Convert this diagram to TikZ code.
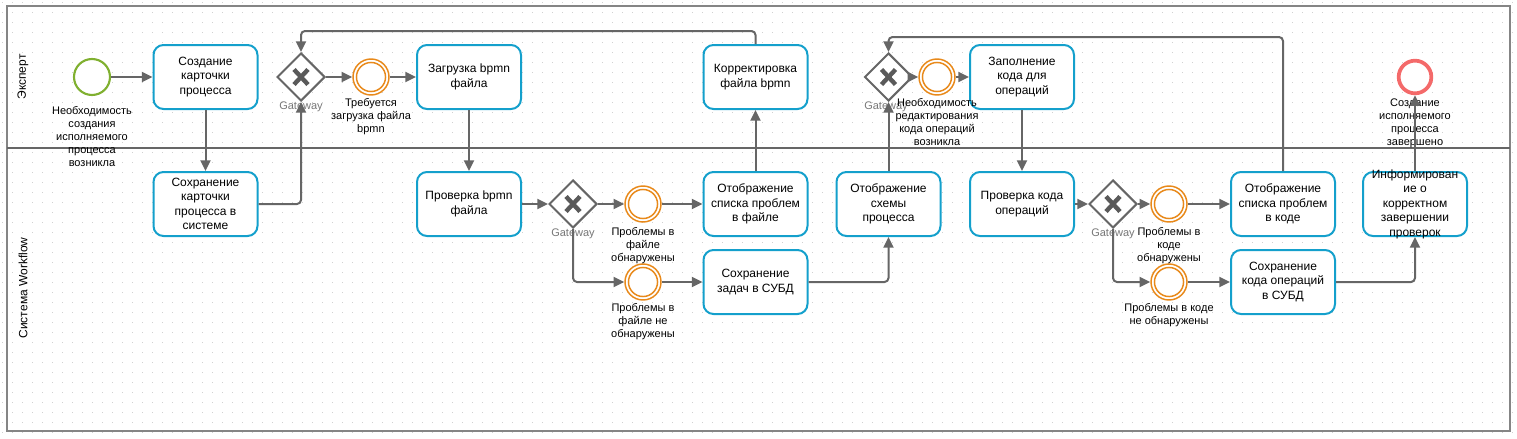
\documentclass[tikz,border=0pt]{standalone}
\usepackage{fontspec}
\setmainfont{Liberation Sans}
\usetikzlibrary{shapes.geometric,arrows.meta}
\definecolor{taskc}{HTML}{14A0CC}
\definecolor{linec}{HTML}{666666}
\definecolor{evc}{HTML}{E8891A}
\definecolor{startc}{HTML}{80B030}
\definecolor{endc}{HTML}{F46A6A}
\definecolor{gridc}{HTML}{D0D0D0}
\definecolor{poolc}{HTML}{858585}
\definecolor{gwtxt}{HTML}{777777}
\definecolor{xmc}{HTML}{5A5A5A}
\newcommand{\gwmark}[1]{%
  \draw[xm] ([shift={(-7,-7.5)}]#1.center) -- ([shift={(7,7.5)}]#1.center);
  \draw[xm] ([shift={(-7,7.5)}]#1.center) -- ([shift={(7,-7.5)}]#1.center);}
\newcommand{\evring}[1]{\draw[evc, line width=1.1pt] (#1.center) circle (10.9pt);}
\begin{document}
\begin{tikzpicture}[x=0.75pt,y=-0.75pt,
  task/.style={draw=taskc, line width=1.5pt, rounded corners=7.5pt, fill=white,
    minimum width=78pt, minimum height=48pt, inner sep=1pt, align=center,
    font=\fontsize{9}{10.9}\selectfont},
  tasktext/.style={inner sep=0pt, align=center, font=\fontsize{9}{10.9}\selectfont},
  gw/.style={diamond, draw=linec, line width=1.5pt, fill=white, minimum width=36pt,
    minimum height=36pt, inner sep=0pt},
  xm/.style={draw=xmc, line width=3.3pt},
  ievent/.style={circle, draw=evc, line width=1.1pt, fill=white, minimum size=27pt, inner sep=0pt},
  startev/.style={circle, draw=startc, line width=1.6pt, fill=white, minimum size=27pt, inner sep=0pt},
  endev/.style={circle, draw=endc, line width=2.8pt, fill=white, minimum size=24.5pt, inner sep=0pt},
  evlabel/.style={inner sep=0pt, align=center, font=\fontsize{8.25}{9.75}\selectfont, anchor=north},
  gwlabel/.style={inner sep=0pt, text=gwtxt, font=\fontsize{8.25}{9.75}\selectfont},
  lanelabel/.style={inner sep=0pt, rotate=90, font=\fontsize{9}{10.9}\selectfont},
  flow/.style={draw=linec, line width=1.5pt, rounded corners=3pt,
    -{Triangle[length=8pt,width=7.5pt]}},
  gridline/.style={draw=gridc, line width=0.75pt, dash pattern=on 0.75pt off 6.75pt}
]
\useasboundingbox (0,0) rectangle (1517,439);
% grid
\foreach \gy in {2,12,...,432} {\draw[gridline] (2,\gy) -- (1517,\gy);}
% pool and lanes
\draw[draw=poolc, line width=1.5pt] (7,6) rectangle (1510,431);
\draw[draw=linec, line width=1.5pt] (7,148) -- (1510,148);
\node[lanelabel] (lane1) at (23,77) {Эксперт};
\node[lanelabel] (lane2) at (23,288) {Система Workflow};

% events
\node[startev] (start) at (92,77) {};
\node[ievent] (e1) at (371,77) {}; \evring{e1}
\node[ievent] (e2) at (643,204) {}; \evring{e2}
\node[ievent] (e3) at (643,282) {}; \evring{e3}
\node[ievent] (e4) at (937,77) {}; \evring{e4}
\node[ievent] (e5) at (1169,204) {}; \evring{e5}
\node[ievent] (e6) at (1169,282) {}; \evring{e6}
\node[endev] (endev) at (1415,77) {};

% gateways
\node[gw] (g1) at (301,77) {}; \gwmark{g1}
\node[gw] (g2) at (573,204) {}; \gwmark{g2}
\node[gw] (g3) at (888.5,77) {}; \gwmark{g3}
\node[gw] (g4) at (1113,204) {}; \gwmark{g4}
\node[gwlabel] (g1l) at (301,107) {Gateway};
\node[gwlabel] (g2l) at (573,234) {Gateway};
\node[gwlabel] (g3l) at (886,107) {Gateway};
\node[gwlabel] (g4l) at (1113,234) {Gateway};

% tasks
\node[task] (t1) at (205.5,77) {Создание\\карточки\\процесса};
\node[task] (t2) at (205.5,204) {Сохранение\\карточки\\процесса в\\системе};
\node[task] (t3) at (469,77) {Загрузка bpmn\\файла};
\node[task] (t4) at (469,204) {Проверка bpmn\\файла};
\node[task] (t5) at (755.5,77) {Корректировка\\файла bpmn};
\node[task] (t6) at (755.5,204) {Отображение\\списка проблем\\в файле};
\node[task] (t7) at (755.5,282) {Сохранение\\задач в СУБД};
\node[task] (t8) at (888.5,204) {Отображение\\схемы\\процесса};
\node[task] (t9) at (1022,77) {Заполнение\\кода для\\операций};
\node[task] (t10) at (1022,204) {Проверка кода\\операций};
\node[task] (t11) at (1283,204) {Отображение\\списка проблем\\в коде};
\node[task] (t12) at (1283,282) {Сохранение\\кода операций\\в СУБД};
\node[task] (t13) at (1415,204) {};
\node[tasktext] (t13txt) at (1415,204) {Информирован\\ие о\\корректном\\завершении\\проверок};

% event labels
\node[evlabel] (lstart) at (92,106.5) {Необходимость\\создания\\исполняемого\\процесса\\возникла};
\node[evlabel] (le1) at (371,98.5) {Требуется\\загрузка файла\\bpmn};
\node[evlabel] (le2) at (643,227.5) {Проблемы в\\файле\\обнаружены};
\node[evlabel] (le3) at (643,303.5) {Проблемы в\\файле не\\обнаружены};
\node[evlabel] (le4) at (937,98.5) {Необходимость\\редактирования\\кода операций\\возникла};
\node[evlabel] (le5) at (1169,227.5) {Проблемы в\\коде\\обнаружены};
\node[evlabel] (le6) at (1169,303.5) {Проблемы в коде\\не обнаружены};
\node[evlabel] (lend) at (1415,98.5) {Создание\\исполняемого\\процесса\\завершено};

% flows
\draw[flow] (start) -- (t1);
\draw[flow] (t1) -- (t2);
\draw[flow] (t2.east) -| (g1.south);
\draw[flow] (g1) -- (e1);
\draw[flow] (e1) -- (t3);
\draw[flow] (t3) -- (t4);
\draw[flow] (t4) -- (g2);
\draw[flow] (g2) -- (e2);
\draw[flow] (e2) -- (t6);
\draw[flow] (g2.south) |- (e3.west);
\draw[flow] (e3) -- (t7);
\draw[flow] (t6) -- (t5);
\draw[flow] (t5.north) -- ++(0,-13) -| (g1.north);
\draw[flow] (t7.east) -| (t8.south);
\draw[flow] (t8) -- (g3);
\draw[flow] (g3) -- (e4);
\draw[flow] (e4) -- (t9);
\draw[flow] (t9) -- (t10);
\draw[flow] (t10) -- (g4);
\draw[flow] (g4) -- (e5);
\draw[flow] (e5) -- (t11);
\draw[flow] (g4.south) |- (e6.west);
\draw[flow] (e6) -- (t12);
\draw[flow] (t11.north) -- ++(0,-134) -| (g3.north);
\draw[flow] (t12.east) -| (t13.south);
\draw[flow] (t13.north) -- (endev.south);
\end{tikzpicture}
\end{document}
